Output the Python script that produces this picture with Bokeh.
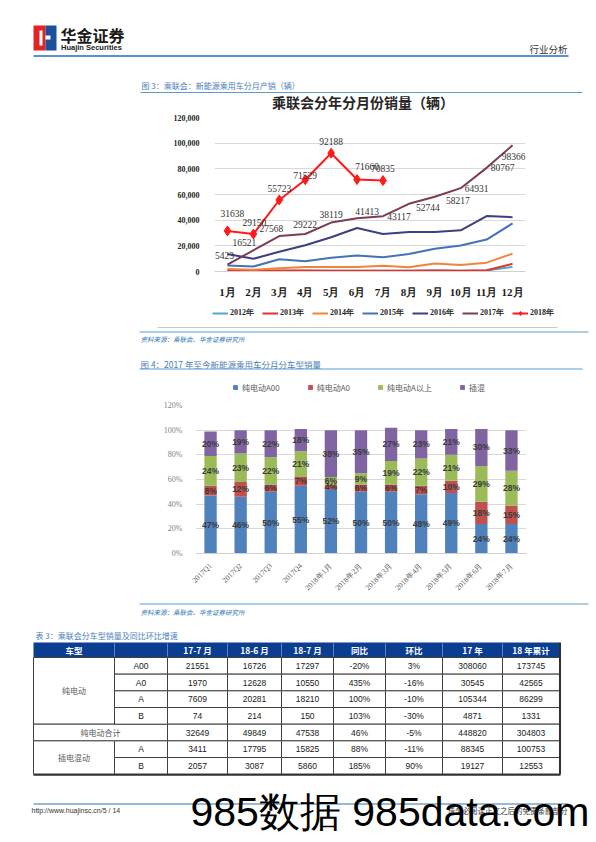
from bokeh.plotting import figure
from bokeh.models import (Range1d, FactorRange, ColumnDataSource, Legend, LegendItem,
                          NumeralTickFormatter, FixedTicker, LabelSet)
from bokeh.core.properties import value
from bokeh.embed import file_html
from bokeh.resources import INLINE
import math

# ---------------- data ----------------
months = ["1月", "2月", "3月", "4月", "5月", "6月", "7月", "8月", "9月", "10月", "11月", "12月"]
sales_2012 = [200, 300, 400, 500, 500, 600, 600, 500, 700, 600, 770, 3600]
sales_2013 = [1100, 800, 700, 700, 600, 500, 600, 600, 700, 500, 1000, 6000]
sales_2014 = [1900, 1400, 2550, 3450, 3450, 3550, 4450, 3300, 6250, 5100, 6900, 13900]
sales_2015 = [4700, 3850, 9600, 7950, 10770, 12560, 11020, 13590, 17690, 20250, 24870, 37500]
sales_2016 = [13650, 9900, 15380, 20500, 26650, 33900, 29200, 30770, 30770, 32050, 43200, 42300]
sales_2017 = [5423, 16521, 27568, 29222, 38119, 41413, 43117, 52744, 58217, 64931, 80767, 98366]
sales_2018 = [31638, 29150, 55723, 71529, 92188, 71660, 70835]
year_names = ["2012年", "2013年", "2014年", "2015年", "2016年", "2017年", "2018年"]
line_ticks = [0, 20000, 40000, 60000, 80000, 100000, 120000]

bar_cats = ["2017Q1", "2017Q2", "2017Q3", "2017Q4", "2018年1月", "2018年2月", "2018年3月",
            "2018年4月", "2018年5月", "2018年6月", "2018年7月"]
share_a00 = [47, 46, 50, 55, 52, 50, 50, 48, 49, 24, 24]
share_a0 = [8, 12, 6, 7, 4, 6, 6, 7, 10, 18, 15]
share_a_up = [24, 23, 22, 21, 6, 9, 19, 22, 21, 29, 28]
share_phev = [20, 19, 22, 18, 38, 35, 27, 23, 21, 30, 33]
bar_names = ["纯电动A00", "纯电动A0", "纯电动A以上", "插混"]
bar_ticks = [0, 0.2, 0.4, 0.6, 0.8, 1.0, 1.2]

table_header = ["车型", "", "17-7 月", "18-6 月", "18-7 月", "同比", "环比", "17 年", "18 年累计"]
tbl_group = ["纯电动", "纯电动", "纯电动", "纯电动", "纯电动合计", "插电混动", "插电混动"]
tbl_sub = ["A00", "A0", "A", "B", "", "A", "B"]
tbl_17_7 = [21551, 1970, 7609, 74, 32649, 3411, 2057]
tbl_18_6 = [16726, 12628, 20281, 214, 49849, 17795, 3087]
tbl_18_7 = [17297, 10550, 18210, 150, 47538, 15825, 5860]
tbl_yoy = ["-20%", "435%", "100%", "103%", "46%", "88%", "185%"]
tbl_mom = ["3%", "-16%", "-10%", "-30%", "-5%", "-11%", "90%"]
tbl_y17 = [308060, 30545, 105344, 4871, 448820, 88345, 19127]
tbl_y18 = [173745, 42565, 86299, 1331, 304803, 100753, 12553]

# ---------------- styles ----------------
W = 596
CJK = "Noto Sans CJK SC"
SERIF = "Liberation Serif"
SANS = "Liberation Sans"
CAP_BLUE = "#4a7ebb"
LINE_BLUE = "#5b9bd5"
line_colors = ["#4bacc6", "#e3312d", "#f0843c", "#4472b8", "#3d3f80", "#7b3d55", "#ff1a1a"]
bar_colors = ["#4f81bd", "#c0504d", "#9bbb59", "#8064a2"]
# label offsets in screen px (right, up)
lbl17_dx = [-3, -9, -8, 0, 0, 10, 16, 19, 23, 16, 16, 1]
lbl17_dy = [9, 8, 8, 9, 8, 7, 0, -4, -4, 0, 0, -11]
lbl18_dx = [5, 1, 0, 0, 0, 10, 0]
lbl18_dy = [17, 12, 11, 4, 12, 13, 12]
OFF = [-60, -50]   # legend-only swatch renderers sit outside the visible frame


def deco(top, bottom):
    p = figure(width=W, height=bottom - top, x_range=Range1d(0, W),
               y_range=Range1d(bottom, top), x_axis_location=None, y_axis_location=None,
               toolbar_location=None, output_backend="svg", min_border=0,
               outline_line_color=None, title=None)
    p.grid.visible = False
    return p


def txt(p, x, y, s, size, color, font=CJK, align="left", baseline="middle", style="normal"):
    p.text(x=[x], y=[y], text=[s], text_font=value(font), text_font_size=f"{size}px",
           text_color=color, text_align=align, text_baseline=baseline, text_font_style=style)


def hline(p, x0, x1, y, color, w=1):
    p.line([x0, x1], [y, y], line_color=color, line_width=w)


# ---------------- header ----------------
p1 = deco(0, 110)
p1.quad(left=[33], right=[45], top=[25], bottom=[50], fill_color="#e02525", line_color=None)
p1.quad(left=[45], right=[56], top=[25], bottom=[50], fill_color="#1c4f9c", line_color=None)
p1.quad(left=[39, 45], right=[42, 50], top=[30, 35], bottom=[45, 39], fill_color="white", line_color=None)
txt(p1, 60, 34.5, "华金证券", 16, "#1a1a1a", style="bold")
txt(p1, 60.5, 47, "Huajin Securities", 7.5, "#1a1a1a", font=SANS, style="bold")
txt(p1, 567, 48, "行业分析", 9.5, "#333333", align="right")
hline(p1, 33, 568, 55.5, "#1f6fc0", 1.5)
txt(p1, 141, 84.5, "图 3：乘联会：新能源乘用车分月产销（辆）", 8, CAP_BLUE)
hline(p1, 140, 582, 92, LINE_BLUE, 1)
txt(p1, 362.5, 101, "乘联会分年分月份销量（辆）", 14, "#262626", align="center", style="bold")

# ---------------- line chart ----------------
p2 = figure(x_range=FactorRange(*months), y_range=Range1d(0, 120000),
            width=W, height=190, min_border_left=214, min_border_right=71,
            min_border_top=7, min_border_bottom=25, toolbar_location=None,
            output_backend="svg", outline_line_color=None, title=None)
p2.xgrid.visible = False
p2.ygrid.grid_line_color = "#d9d9d9"
p2.yaxis.ticker = FixedTicker(ticks=line_ticks)
p2.yaxis.formatter = NumeralTickFormatter(format="0,0")
p2.yaxis.axis_line_color = None
p2.yaxis.major_tick_line_color = None
p2.yaxis.minor_tick_line_color = None
p2.yaxis.major_label_standoff = 9
p2.yaxis.major_label_text_font = SERIF
p2.yaxis.major_label_text_font_size = "8px"
p2.yaxis.major_label_text_font_style = "bold"
p2.yaxis.major_label_text_color = "#262626"
p2.xaxis.axis_line_color = "#d0d0d0"
p2.xaxis.major_tick_line_color = None
p2.xaxis.major_label_standoff = 8
p2.xaxis.major_label_text_font = SERIF
p2.xaxis.major_label_text_font_size = "11px"
p2.xaxis.major_label_text_font_style = "bold"
p2.xaxis.major_label_text_color = "#1a1a1a"

all_series = [sales_2012, sales_2013, sales_2014, sales_2015, sales_2016, sales_2017, sales_2018]
for name, vals, col in zip(year_names, all_series, line_colors):
    p2.line(months[:len(vals)], vals, line_color=col, line_width=2)
    if name == "2018年":
        p2.scatter(months[:len(vals)], vals, marker="diamond", size=10,
                   fill_color=col, line_color=col)

src17 = ColumnDataSource(dict(x=months, y=sales_2017, t=[str(v) for v in sales_2017],
                              dx=lbl17_dx, dy=lbl17_dy))
p2.add_layout(LabelSet(x="x", y="y", text="t", x_offset="dx", y_offset="dy", source=src17,
                       text_font=value(SERIF), text_font_size="9.5px", text_color="#333333",
                       text_align="center", text_baseline="middle"))
src18 = ColumnDataSource(dict(x=months[:len(sales_2018)], y=sales_2018,
                              t=[str(v) for v in sales_2018], dx=lbl18_dx, dy=lbl18_dy))
p2.add_layout(LabelSet(x="x", y="y", text="t", x_offset="dx", y_offset="dy", source=src18,
                       text_font=value(SERIF), text_font_size="9.5px", text_color="#333333",
                       text_align="center", text_baseline="middle"))

# legend strip of the line chart
p2l = deco(300, 326)
items = []
for name, col in zip(year_names, line_colors):
    rs = [p2l.line(x=OFF, y=OFF, line_color=col, line_width=2)]
    if name == "2018年":
        rs.append(p2l.scatter(x=OFF[:1], y=OFF[:1], marker="diamond", size=8,
                              fill_color=col, line_color=col))
    items.append(LegendItem(label=name, renderers=rs))
leg2 = Legend(items=items, orientation="horizontal", location=(212, 8),
              label_text_font=SERIF, label_text_font_size="8px", label_text_font_style="bold",
              label_text_color="#262626", glyph_width=16, glyph_height=10, label_height=10,
              label_standoff=2, spacing=8, padding=2, margin=0,
              border_line_color=None, background_fill_alpha=0)
p2l.add_layout(leg2)

# ---------------- between charts ----------------
p3 = deco(326, 395)
hline(p3, 157, 557, 327, "#c8c8c8", 1)
hline(p3, 139, 588, 331.5, LINE_BLUE, 1)
txt(p3, 140, 338.5, "资料来源：乘联会、华金证券研究所", 6.5, "#2e75b6", style="italic")
txt(p3, 140, 363, "图 4：2017 年至今新能源乘用车分月分车型销量", 8.5, CAP_BLUE)
hline(p3, 139, 582, 368.5, LINE_BLUE, 1)
bar_items = []
for name, col in zip(bar_names, bar_colors):
    r = p3.quad(left=OFF[:1], right=OFF[1:], top=OFF[:1], bottom=OFF[1:],
                fill_color=col, line_color=None)
    bar_items.append(LegendItem(label=name, renderers=[r]))
leg4 = Legend(items=bar_items, orientation="horizontal", location=(232, 2),
              label_text_font=CJK, label_text_font_size="8px", label_text_color="#595959",
              glyph_width=6, glyph_height=6, label_height=12, label_standoff=4, spacing=27,
              padding=0, margin=0, border_line_color=None, background_fill_alpha=0)
p3.add_layout(leg4)

# ---------------- stacked bar chart ----------------
shares = [share_a00, share_a0, share_a_up, share_phev]
keys = ["a00", "a0", "aup", "phev"]
bdata = {"cat": bar_cats}
for k, s in zip(keys, shares):
    bdata[k] = [v / 100 for v in s]
bsrc = ColumnDataSource(bdata)

p4 = figure(x_range=FactorRange(*bar_cats), y_range=Range1d(0, 1.2),
            width=W, height=206, min_border_left=195, min_border_right=70,
            min_border_top=10, min_border_bottom=48, toolbar_location=None,
            output_backend="svg", outline_line_color=None, title=None)
p4.vbar_stack(keys, x="cat", width=0.41, color=bar_colors, line_color=None, source=bsrc)
p4.xgrid.visible = False
p4.ygrid.grid_line_color = "#d9d9d9"
p4.yaxis.ticker = FixedTicker(ticks=bar_ticks)
p4.yaxis.formatter = NumeralTickFormatter(format="0%")
p4.yaxis.axis_line_color = None
p4.yaxis.major_tick_line_color = None
p4.yaxis.minor_tick_line_color = None
p4.yaxis.major_label_standoff = 7
p4.yaxis.major_label_text_font = SERIF
p4.yaxis.major_label_text_font_size = "8px"
p4.yaxis.major_label_text_color = "#7f7f7f"
p4.xaxis.axis_line_color = "#d0d0d0"
p4.xaxis.major_tick_line_color = None
p4.xaxis.major_label_orientation = math.pi / 4
p4.xaxis.major_label_standoff = 5
p4.xaxis.major_label_text_font = SERIF
p4.xaxis.major_label_text_font_size = "7.5px"
p4.xaxis.major_label_text_color = "#595959"

lx, ly, lt = [], [], []
base = [0.0] * len(bar_cats)
for s in shares:
    for i, v in enumerate(s):
        lx.append(bar_cats[i])
        ly.append(base[i] + v / 200)
        lt.append(f"{v}%")
        base[i] += v / 100
p4.text(x=lx, y=ly, text=lt, text_font=value(SANS), text_font_size="8.5px",
        text_font_style="bold", text_color="#3a3a3a", text_align="center", text_baseline="middle")

# ---------------- between chart and table ----------------
p5 = deco(601, 640)
hline(p5, 139, 588, 603.5, LINE_BLUE, 1)
txt(p5, 140, 611, "资料来源：乘联会、华金证券研究所", 6.5, "#2e75b6", style="italic")
txt(p5, 35, 635, "表 3：乘联会分车型销量及同比环比增速", 8, CAP_BLUE)

# ---------------- table ----------------
p6 = deco(640, 777)
xe = [33, 114, 167, 227, 281, 333, 385, 442, 502, 559]
h_top, h_bot = 642, 657
rh = 16.67
ye = [h_bot + i * rh for i in range(len(tbl_group) + 1)]
p6.quad(left=[xe[0]], right=[xe[-1]], top=[h_top], bottom=[h_bot], fill_color="#0b3d91", line_color=None)
for x in xe[1:-1]:
    p6.line([x, x], [h_top + 1, h_bot - 1], line_color="#5f82c2", line_width=1)
hx = [(xe[i] + xe[i + 1]) / 2 for i in range(len(table_header))]
p6.text(x=hx, y=[(h_top + h_bot) / 2] * len(hx), text=table_header, text_font=value(CJK),
        text_font_size="8.5px", text_font_style="bold", text_color="white",
        text_align="center", text_baseline="middle")

cl, cr, ct, cb, cx, cy, ctext = [], [], [], [], [], [], []
i = 0
n = len(tbl_group)
while i < n:
    j = i
    while j + 1 < n and tbl_group[j + 1] == tbl_group[i]:
        j += 1
    right = xe[2] if tbl_sub[i] == "" else xe[1]
    cl.append(xe[0]); cr.append(right); ct.append(ye[i]); cb.append(ye[j + 1])
    cx.append((xe[0] + right) / 2); cy.append((ye[i] + ye[j + 1]) / 2); ctext.append(tbl_group[i])
    i = j + 1
p6.quad(left=cl, right=cr, top=ct, bottom=cb, fill_color="white", line_color="#404040", line_width=1)
p6.text(x=cx, y=cy, text=ctext, text_font=value(CJK), text_font_size="8px", text_color="#595959",
        text_align="center", text_baseline="middle")

cols = [tbl_sub, tbl_17_7, tbl_18_6, tbl_18_7, tbl_yoy, tbl_mom, tbl_y17, tbl_y18]
dl, dr, dt, db, dx_, dy_, dtext = [], [], [], [], [], [], []
for k, colvals in enumerate(cols):
    for r, v in enumerate(colvals):
        if k == 0 and v == "":
            continue
        dl.append(xe[k + 1]); dr.append(xe[k + 2]); dt.append(ye[r]); db.append(ye[r + 1])
        dx_.append((xe[k + 1] + xe[k + 2]) / 2); dy_.append((ye[r] + ye[r + 1]) / 2)
        dtext.append(str(v))
p6.quad(left=dl, right=dr, top=dt, bottom=db, fill_color="white", line_color="#404040", line_width=1)
p6.text(x=dx_, y=dy_, text=dtext, text_font=value(SANS), text_font_size="8.5px",
        text_color="#1a1a1a", text_align="center", text_baseline="middle")
hline(p6, xe[0], xe[-1] + 1, ye[-1] + 0.5, "#303030", 2)
p6.line([xe[-1] + 0.5, xe[-1] + 0.5], [h_top, ye[-1]], line_color="#303030", line_width=2)

# ---------------- footer ----------------
p7 = deco(777, 842)
hline(p7, 33, 568, 803.5, "#2e75b6", 1)
txt(p7, 31, 809.5, "http://www.huajinsc.cn/5 / 14", 7, "#333333", font=SANS)
txt(p7, 567, 809.5, "请务必阅读正文之后的免责条款部分", 7.5, "#333333", align="right")
txt(p7, 190, 811, "985数据 985data.com", 41, "#000000", font=SANS)

pages = [p1, p2, p2l, p3, p4, p5, p6, p7]
open("out.html", "w").write(file_html(pages, INLINE))
